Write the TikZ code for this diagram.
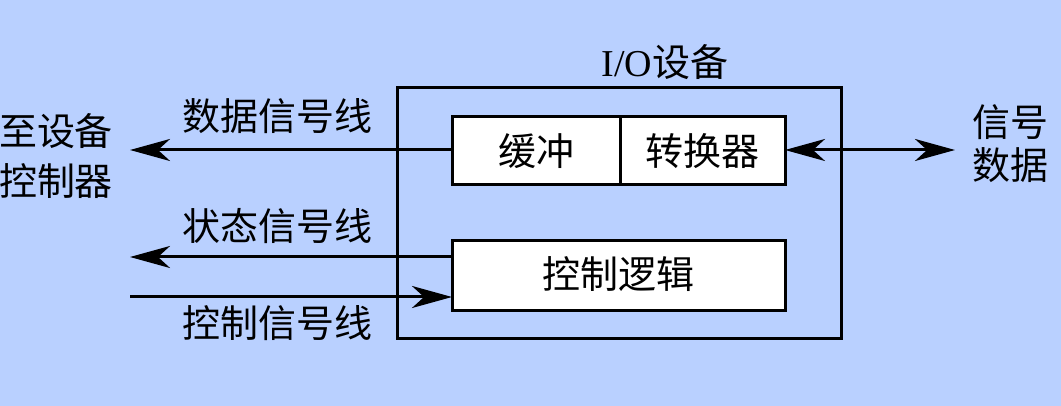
\documentclass[tikz,border=0pt]{standalone}
\usepackage{fontspec}
\setmainfont{Liberation Serif}
\newfontfamily\cjk{Noto Sans CJK SC}
\usetikzlibrary{arrows.meta}
\definecolor{bg}{RGB}{185,208,255}
\begin{document}
\begin{tikzpicture}[x=1pt,y=-1pt,
  box/.style={draw=black,line width=3pt},
  wbox/.style={draw=black,line width=3pt,fill=white},
  sig/.style={line width=3pt,-{Stealth[length=40pt,width=22pt,inset=12pt]}},
  dsig/.style={line width=3pt,{Stealth[length=40pt,width=22pt,inset=12pt]}-{Stealth[length=40pt,width=22pt,inset=12pt]}},
  lbl/.style={font=\cjk\fontsize{38}{42}\selectfont,inner sep=0pt}]
\fill[bg] (0,0) rectangle (1061,406);
\useasboundingbox (0,0) rectangle (1061,406);
\draw[box] (397,88) rectangle (841,338);
\node[lbl] (io) at (665,62) {{\rmfamily\fontsize{38}{42}\selectfont I/O}设备};
\draw[wbox] (452,117) rectangle (785,185);
\coordinate (bufL) at (452,150);
\coordinate (bufR) at (785,150);
\draw[box] (620,117) -- (620,185);
\node[lbl] (buf) at (536,151) {缓冲};
\node[lbl] (conv) at (702,151) {转换器};
\draw[wbox] (452,241) rectangle (785,311);
\node[lbl] (logic) at (618,274) {控制逻辑};
\coordinate (stL) at (452,257);
\coordinate (ctL) at (452,297);
\coordinate (dataEnd) at (130,150);
\coordinate (stEnd) at (130,257);
\coordinate (ctStart) at (130,297);
\coordinate (ext) at (955,150);
\draw[sig] (bufL) -- (dataEnd);
\draw[sig] (stL) -- (stEnd);
\draw[sig] (ctStart) -- (ctL);
\draw[dsig] (bufR) -- (ext);
\node[lbl] (l1) at (277,116) {数据信号线};
\node[lbl] (l2) at (277,226) {状态信号线};
\node[lbl] (l3) at (277,323) {控制信号线};
\node[lbl] (a1) at (56,131) {至设备};
\node[lbl] (a2) at (56,181) {控制器};
\node[lbl] (b1) at (1010,122) {信号};
\node[lbl] (b2) at (1010,165) {数据};
\end{tikzpicture}
\end{document}
